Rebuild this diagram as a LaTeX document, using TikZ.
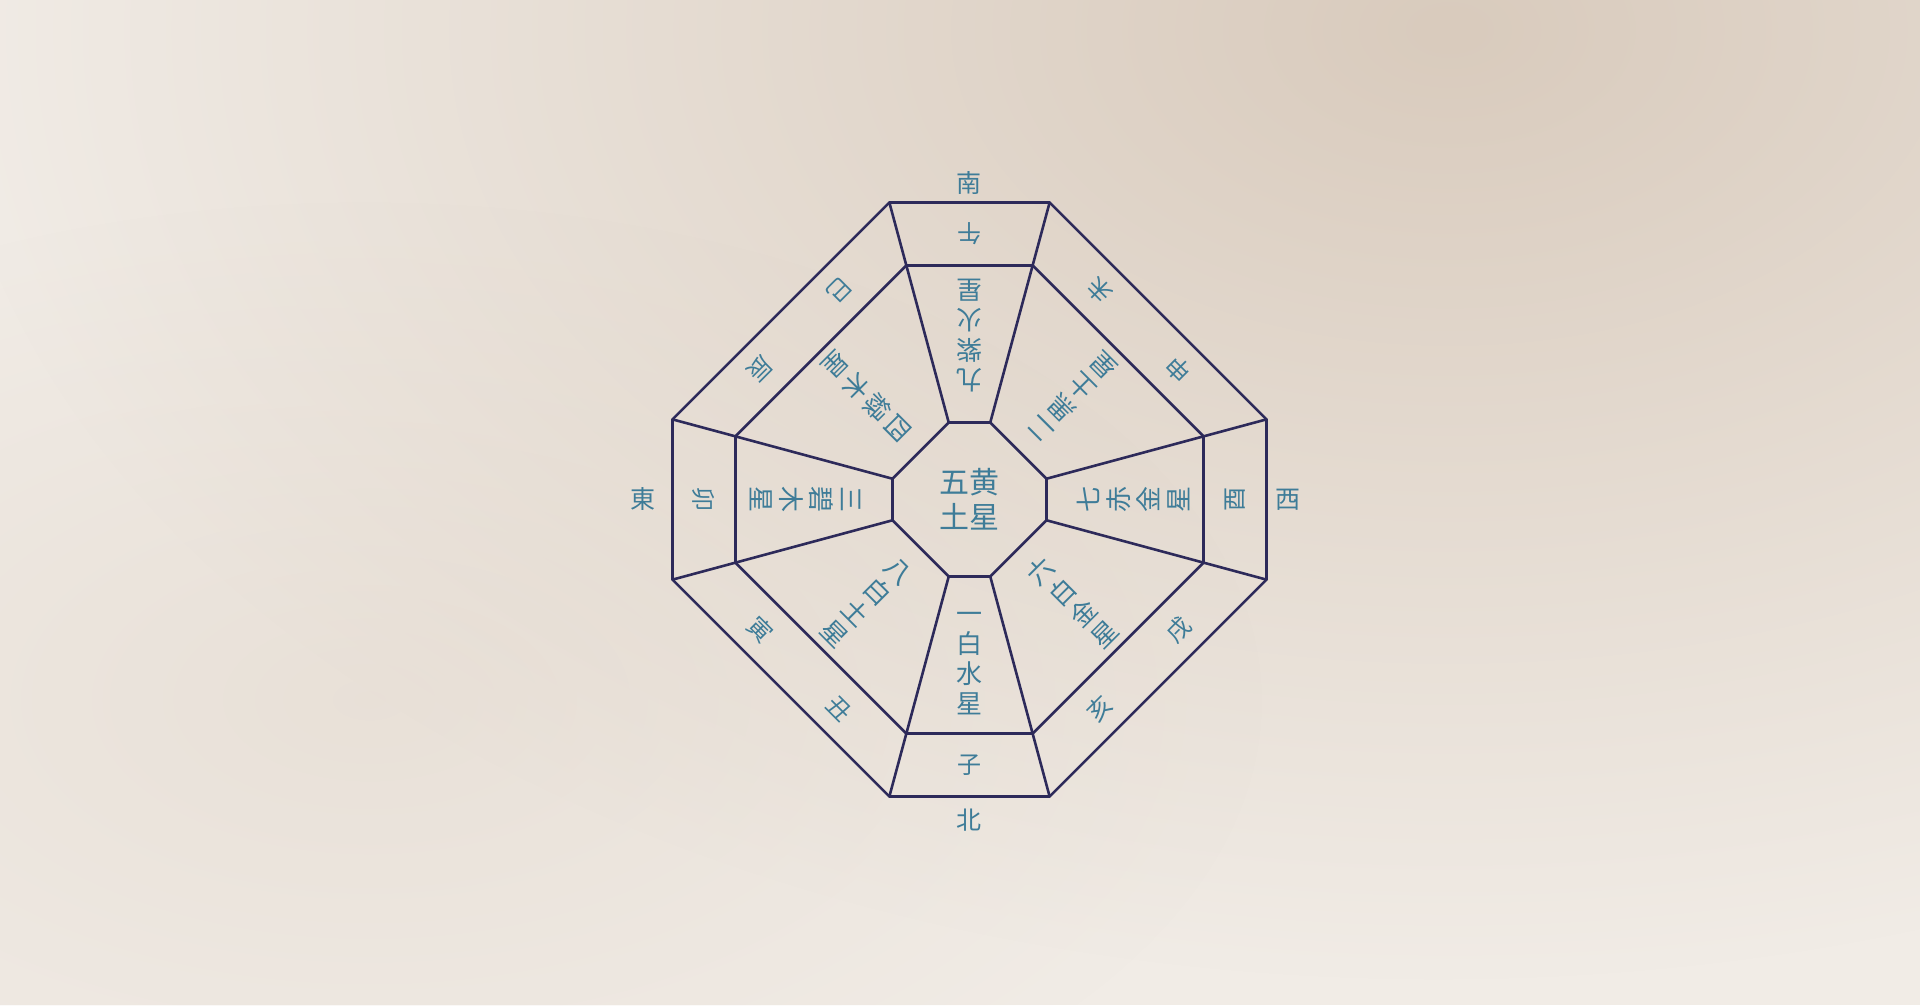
\documentclass[tikz,border=0pt]{standalone}
\usepackage{fontspec}
\usetikzlibrary{fadings}
\newfontfamily\jp{Noto Sans CJK JP}
\definecolor{linea}{HTML}{2D2A5A}
\definecolor{testo}{HTML}{3E7C98}
\definecolor{sfondo}{HTML}{F1ECE6}
\definecolor{scuro}{HTML}{D9CBBD}
\tikzfading[name=sfuma, inner color=transparent!0, outer color=transparent!100]

\begin{document}
\begin{tikzpicture}[
  x=1pt, y=1pt,
  bordo/.style={draw=linea, line width=2.6pt, line join=miter},
  cella/.style={text=testo, inner sep=0pt, align=center},
  stella/.style={cella, font=\jp\fontsize{26}{30}\selectfont},
  ramo/.style={cella, font=\jp\fontsize{24}{24}\selectfont},
  punto/.style={cella, font=\jp\fontsize{25}{25}\selectfont},
  centro/.style={cella, font=\jp\fontsize{30}{35}\selectfont}
]

% Sfondo
\useasboundingbox (-969.5,-505.5) rectangle (950.5,499.5);
\clip (-969.5,-505.5) rectangle (950.5,499.5);
\fill[sfondo] (-969.5,-505.5) rectangle (950.5,499.5);
\fill[scuro, path fading=sfuma] (480,470) ellipse [x radius=1500, y radius=950];
\fill[scuro, path fading=sfuma, opacity=0.35] (-600,-200) ellipse [x radius=900, y radius=500];

% ====================== OTTAGONI ======================
\foreach \ang [count=\n] in {15.1,74.9,105.1,164.9,195.1,254.9,285.1,344.9} {
  \coordinate (e\n) at (\ang:307.6);
  \coordinate (m\n) at (\ang:242.4);
  \coordinate (i\n) at (\ang:79.8);
}
\draw[bordo] (e1) \foreach \n in {2,...,8} { -- (e\n) } -- cycle;
\draw[bordo] (m1) \foreach \n in {2,...,8} { -- (m\n) } -- cycle;
\draw[bordo] (i1) \foreach \n in {2,...,8} { -- (i\n) } -- cycle;
\foreach \n in {1,...,8} \draw[bordo] (i\n) -- (e\n);

% ====================== STELLE ======================
\node[centro] (go) at (0,0) {五黄\\土星};
\node[stella, rotate=0]   (ichi)  at (-90:164) {一\\白\\水\\星};
\node[stella, rotate=180] (kyu)   at (90:164)  {九\\紫\\火\\星};
\node[stella, rotate=270] (san)   at (180:164) {三\\碧\\木\\星};
\node[stella, rotate=90]  (nana)  at (0:164)   {七\\赤\\金\\星};
\node[stella, rotate=135] (ni)    at (45:146)  {二\\黒\\土\\星};
\node[stella, rotate=225] (yon)   at (135:146) {四\\緑\\木\\星};
\node[stella, rotate=45]  (roku)  at (-45:146) {六\\白\\金\\星};
\node[stella, rotate=315] (hachi) at (225:146) {八\\白\\土\\星};

% ====================== DODICI RAMI ======================
\node[ramo, rotate=0]   (ne)      at (-90:265.5)   {子};
\node[ramo, rotate=180] (uma)     at (90:265.5)    {午};
\node[ramo, rotate=270] (u)       at (180:265.5)   {卯};
\node[ramo, rotate=90]  (tori)    at (0:265.5)     {酉};
\node[ramo, rotate=225] (mi)      at (121.9:246.4) {巳};
\node[ramo, rotate=225] (tatsu)   at (148.1:246.4) {辰};
\node[ramo, rotate=135] (hitsuji) at (58.1:246.4)  {未};
\node[ramo, rotate=135] (saru)    at (31.9:246.4)  {申};
\node[ramo, rotate=45]  (inu)     at (-31.9:246.4) {戌};
\node[ramo, rotate=45]  (i)       at (-58.1:246.4) {亥};
\node[ramo, rotate=315] (tora)    at (211.9:246.4) {寅};
\node[ramo, rotate=315] (ushi)    at (238.1:246.4) {丑};

% ====================== DIREZIONI ======================
\node[punto] (minami)  at (0,317)  {南};
\node[punto] (kita)    at (0,-321) {北};
\node[punto] (higashi) at (-326,0) {東};
\node[punto] (nishi)   at (318,0)  {西};

\end{tikzpicture}
\end{document}
